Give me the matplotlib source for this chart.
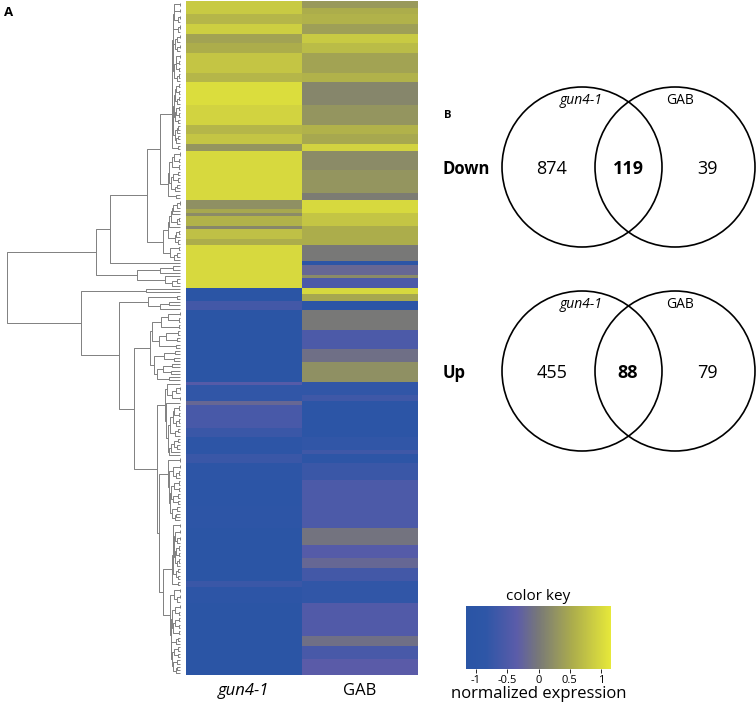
import numpy as np
import matplotlib
matplotlib.use('Agg')
import matplotlib.pyplot as plt
from matplotlib.colors import LinearSegmentedColormap
from matplotlib.patches import Circle

plt.rcParams['font.family'] = ['Open Sans', 'DejaVu Sans']
plt.rcParams['axes.unicode_minus'] = False

samples = ['gun4-1', 'GAB']

# heatmap rows, top to bottom, run-length coded: (number of rows, normalized expression)
gun4_counts = [4, 3, 3, 3, 3, 6, 3, 7, 6, 3, 3, 2, 15, 3, 1, 1, 3, 1, 3, 2, 13,
               4, 3, 22, 1, 5, 1, 7, 3, 5, 3, 5, 8, 7, 16, 2, 5, 22]
gun4_values = [0.85, 0.65, 0.9, 0.45, 0.55, 0.8, 0.65, 1.05, 0.95, 0.65, 0.8, 0.3, 1.0, 0.25,
               0.5, 0.2, 0.6, 0.15, 0.75, 0.55, 1.0,
               -1.0, -0.6, -1.0, -0.4, -0.8, -0.2, -0.55, -0.7, -0.85, -0.7, -0.9, -0.95,
               -0.85, -1.0, -0.7, -0.9, -1.0]
gab_counts = [2, 2, 3, 3, 3, 3, 6, 3, 7, 6, 3, 3, 2, 6, 7, 2, 4, 4, 6, 5, 1, 3, 1, 3,
              2, 2, 3, 6, 6, 4, 6, 4, 2, 11, 4, 1, 3, 5, 15, 5, 4, 3, 4, 7, 10, 3, 4, 5]
gab_values = [0.35, 0.55, 0.6, 0.4, 0.85, 0.7, 0.45, 0.6, 0.15, 0.3, 0.6, 0.5, 0.95, 0.2,
              0.3, 0.05, 1.0, 0.8, 0.55, 0.0, -0.95, -0.2, 0.2, -0.5,
              1.0, 0.5, -0.95, 0.0, -0.5, -0.1, 0.25, -0.8, -0.65, -0.95, -0.8, -0.65,
              -0.85, -0.7, -0.5, -0.05, -0.4, -0.2, -0.6, -0.8, -0.45, -0.1, -0.55, -0.35]

# row dendrogram: [merge height, upper branch, lower branch]
# a tuple (first row, end row, top height) is a sub-cluster joined from its rows
tree = [1.0,
        [0.486,
         [0.405,
          [0.191,
           [0.116, (0, 46, 0.046), (46, 61, 0.069)],
           [0.098, (61, 75, 0.069), (75, 80, 0.058)]],
          (80, 81, 0.0)],
         [0.249, (81, 84, 0.116), (84, 88, 0.087)]],
        [0.572,
         (88, 90, 0.197),
         [0.353,
          (90, 95, 0.185),
          [0.266,
           (95, 117, 0.173),
           [0.133,
            (117, 140, 0.087),
            [0.121,
             (140, 160, 0.069),
             [0.098, (160, 180, 0.046), (180, 207, 0.058)]]]]]]]

# venn diagrams: only gun4-1, shared, only GAB
down_counts = [874, 119, 39]
up_counts = [455, 88, 79]

key_ticks = [-1, -0.5, 0, 0.5, 1]
key_labels = ['-1', '-0.5', '0', '0.5', '1']

expr = np.column_stack([np.repeat(gun4_values, gun4_counts),
                        np.repeat(gab_values, gab_counts)])
n_rows = expr.shape[0]

cmap = LinearSegmentedColormap.from_list('bgy', [
    (0.0, '#2a55a5'), (0.134, '#2e56a7'), (0.35, '#5b5ca9'),
    (0.5, '#787878'), (0.737, '#acad4c'), (1.0, '#e6e83a')])

W, H = 756, 706
fig = plt.figure(figsize=(W / 100, H / 100), dpi=100)


def px_axes(x0, y0, x1, y1):
    return fig.add_axes([x0 / W, 1 - y1 / H, (x1 - x0) / W, (y1 - y0) / H])


# heatmap
ax_h = px_axes(186, 1, 417, 675)
im = ax_h.imshow(expr, aspect='auto', cmap=cmap, vmin=-1.16, vmax=1.16,
                 interpolation='nearest', extent=(0, 2, n_rows, 0))
ax_h.set_axis_off()
ax_h.text(0.5, n_rows + 5, samples[0], style='italic', fontsize=12, ha='center', va='center')
ax_h.text(1.5, n_rows + 5, samples[1], fontsize=12, ha='center', va='center')

# dendrogram
ax_d = px_axes(0, 1, 183, 675)
ax_d.set_xlim(180 / 173, -3 / 173)
ax_d.set_ylim(n_rows, 0)
ax_d.set_axis_off()
line_kw = dict(color='#808080', lw=0.7, solid_capstyle='butt')


def join_rows(ax, start, stop, top):
    groups = [[r] for r in range(start, stop)]
    pos = [r + 0.5 for r in range(start, stop)]
    hts = [0.0] * len(groups)
    n_merge = len(groups) - 1
    k = 0
    while len(groups) > 1:
        best = None
        for i in range(len(groups) - 1):
            d = np.linalg.norm(expr[groups[i]].mean(0) - expr[groups[i + 1]].mean(0))
            key = (round(d, 6), len(groups[i]) + len(groups[i + 1]), i)
            if best is None or key < best:
                best = key
        i = best[2]
        k += 1
        h = top * (k / n_merge) ** 1.6
        ax.plot([hts[i], h, h, hts[i + 1]], [pos[i], pos[i], pos[i + 1], pos[i + 1]], **line_kw)
        groups[i] = groups[i] + groups[i + 1]
        pos[i] = (pos[i] + pos[i + 1]) / 2
        hts[i] = h
        del groups[i + 1], pos[i + 1], hts[i + 1]
    return pos[0], hts[0]


def draw_node(ax, node):
    if isinstance(node, tuple):
        return join_rows(ax, *node)
    h, upper, lower = node
    p1, h1 = draw_node(ax, upper)
    p2, h2 = draw_node(ax, lower)
    ax.plot([h1, h, h, h2], [p1, p1, p2, p2], **line_kw)
    return (p1 + p2) / 2, h


draw_node(ax_d, tree)

# overlay for venn diagrams and panel letters (pixel coordinates)
ax_o = fig.add_axes([0, 0, 1, 1])
ax_o.set_xlim(0, W)
ax_o.set_ylim(H, 0)
ax_o.set_axis_off()
ax_o.patch.set_alpha(0)

ax_o.text(4, 13, 'A', fontsize=9.5, fontweight='bold', ha='left', va='center')
ax_o.text(444, 116, 'B', fontsize=8, fontweight='bold', ha='left', va='center')

for cy, counts, name in [(167, down_counts, 'Down'), (371, up_counts, 'Up')]:
    for cx in (582, 675):
        ax_o.add_patch(Circle((cx, cy), 80, fill=False, lw=1.2, ec='black'))
    ax_o.text(443, cy + 2, name, fontsize=12, fontweight='bold', ha='left', va='center')
    ax_o.text(552, cy + 2, str(counts[0]), fontsize=13, ha='center', va='center')
    ax_o.text(628, cy + 2, str(counts[1]), fontsize=13, fontweight='bold', ha='center', va='center')
    ax_o.text(707, cy + 2, str(counts[2]), fontsize=13, ha='center', va='center')
    ax_o.text(581, cy - 66, samples[0], style='italic', fontsize=10, ha='center', va='center')
    ax_o.text(680, cy - 66, samples[1], fontsize=10, ha='center', va='center')

# colour key
cax = px_axes(466, 606, 611, 669)
cb = fig.colorbar(im, cax=cax, orientation='horizontal', ticks=key_ticks)
cb.outline.set_visible(False)
cb.set_ticklabels(key_labels)
cax.tick_params(length=3, width=0.6, labelsize=8, pad=1)
cax.set_title('color key', fontsize=11, pad=4)
cax.set_xlabel('normalized expression', fontsize=12, labelpad=0)

fig.savefig('out.png', dpi=100)
